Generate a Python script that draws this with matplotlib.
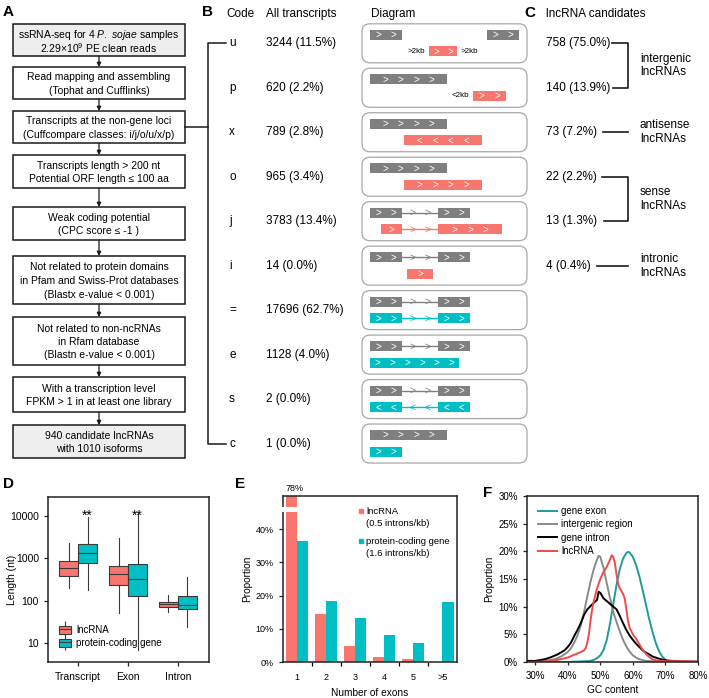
import matplotlib
matplotlib.use('Agg')
import matplotlib.pyplot as plt
from matplotlib.patches import Rectangle, FancyBboxPatch, Patch
from matplotlib.lines import Line2D
from matplotlib.ticker import NullLocator
import numpy as np

plt.rcParams['font.family'] = ['Liberation Sans', 'DejaVu Sans']
plt.rcParams['mathtext.fontset'] = 'custom'
plt.rcParams['mathtext.rm'] = 'Liberation Sans'
plt.rcParams['mathtext.it'] = 'Liberation Sans:italic'

RED = '#f8766d'
TEAL = '#00bfc4'
GRAY = '#7f7f7f'
DARK = '#1a1a1a'

# ------------------------------------------------------------------ data
flow_steps = [
    ['ssRNA-seq for 4 $\\it{P.\\ sojae}$ samples', '2.29×10$^{9}$ PE clean reads'],
    ['Read mapping and assembling', '(Tophat and Cufflinks)'],
    ['Transcripts at the non-gene loci', '(Cuffcompare classes: i/j/o/u/x/p)'],
    ['Transcripts length > 200 nt', 'Potential ORF length ≤ 100 aa'],
    ['Weak coding potential', '(CPC score ≤ -1 )'],
    ['Not related to protein domains', 'in Pfam and Swiss-Prot databases',
     '(Blastx e-value < 0.001)'],
    ['Not related to non-ncRNAs', 'in Rfam database', '(Blastn e-value < 0.001)'],
    ['With a transcription level', 'FPKM > 1 in at least one library'],
    ['940 candidate lncRNAs', 'with 1010 isoforms'],
]
flow_tops = [24, 67, 111, 155, 207, 256, 317, 377, 425]
flow_bottoms = [56, 99, 143, 188, 240, 304, 365, 412, 458]

codes = ['u', 'p', 'x', 'o', 'j', 'i', '=', 'e', 's', 'c']
all_counts = [3244, 620, 789, 965, 3783, 14, 17696, 1128, 2, 1]
all_pct = [11.5, 2.2, 2.8, 3.4, 13.4, 0.0, 62.7, 4.0, 0.0, 0.0]

lnc_counts = [758, 140, 73, 22, 13, 4]
lnc_pct = [75.0, 13.9, 7.2, 2.2, 1.3, 0.4]
lnc_groups = ['intergenic\nlncRNAs', 'antisense\nlncRNAs', 'sense\nlncRNAs', 'intronic\nlncRNAs']
lnc_group_rows = [(0, 1), (2, 2), (3, 4), (5, 5)]

# panel D : box statistics (nt)
d_cats = ['Transcript', 'Exon', 'Intron']
d_groups = ['lncRNA', 'protein-coding gene']
d_whislo = [[203, 178], [50, 7], [55, 24]]
d_q1 = [[390, 790], [230, 126], [72, 65]]
d_med = [[580, 1310], [419, 325], [82, 79]]
d_q3 = [[865, 2140], [660, 750], [95, 131]]
d_whishi = [[2340, 9300], [2960, 11100], [136, 355]]
d_signif = ['**', '**', '']

# panel E : exon number distribution
e_cats = ['1', '2', '3', '4', '5', '>5']
e_lnc = [0.78, 0.144, 0.049, 0.016, 0.010, 0.0]
e_pcg = [0.364, 0.184, 0.133, 0.080, 0.058, 0.182]

# panel F : GC content distributions
f_exon_gc = [0.275, 0.40, 0.44, 0.46, 0.47, 0.48, 0.49, 0.50, 0.51, 0.52, 0.53, 0.54, 0.55, 0.56,
             0.57, 0.58, 0.585, 0.59, 0.60, 0.61, 0.62, 0.63, 0.64, 0.65, 0.66, 0.67, 0.68, 0.69,
             0.70, 0.71, 0.73, 0.80]
f_exon = [0.0, 0.0, 0.001, 0.0015, 0.002, 0.004, 0.007, 0.012, 0.022, 0.040, 0.070, 0.105, 0.140,
          0.168, 0.187, 0.197, 0.199, 0.198, 0.190, 0.175, 0.155, 0.130, 0.104, 0.078, 0.055,
          0.035, 0.020, 0.010, 0.004, 0.0015, 0.0003, 0.0]
f_inter_gc = [0.275, 0.33, 0.36, 0.38, 0.40, 0.41, 0.42, 0.43, 0.44, 0.45, 0.46, 0.47, 0.48, 0.49,
              0.495, 0.50, 0.51, 0.52, 0.53, 0.54, 0.55, 0.56, 0.57, 0.58, 0.59, 0.60, 0.61, 0.62,
              0.64, 0.67, 0.72, 0.80]
f_inter = [0.0005, 0.002, 0.005, 0.010, 0.018, 0.025, 0.035, 0.048, 0.066, 0.090, 0.118, 0.145,
           0.168, 0.185, 0.192, 0.190, 0.170, 0.142, 0.115, 0.090, 0.072, 0.055, 0.040, 0.028,
           0.019, 0.012, 0.008, 0.005, 0.002, 0.001, 0.0005, 0.0]
f_intron_gc = [0.275, 0.30, 0.33, 0.35, 0.37, 0.39, 0.40, 0.41, 0.42, 0.43, 0.44, 0.45, 0.46, 0.47,
               0.48, 0.49, 0.495, 0.50, 0.505, 0.51, 0.52, 0.53, 0.54, 0.55, 0.56, 0.57, 0.58,
               0.59, 0.60, 0.61, 0.62, 0.63, 0.64, 0.65, 0.66, 0.68, 0.70, 0.72, 0.75, 0.80]
f_intron = [0.002, 0.002, 0.005, 0.009, 0.014, 0.021, 0.027, 0.035, 0.047, 0.058, 0.070, 0.085,
            0.095, 0.101, 0.107, 0.112, 0.127, 0.125, 0.120, 0.115, 0.110, 0.105, 0.100, 0.095,
            0.083, 0.070, 0.058, 0.048, 0.040, 0.033, 0.027, 0.021, 0.017, 0.014, 0.010, 0.006,
            0.003, 0.002, 0.001, 0.0005]
f_lnc_gc = [0.275, 0.34, 0.37, 0.40, 0.42, 0.44, 0.45, 0.455, 0.46, 0.465, 0.47, 0.475, 0.48, 0.49,
            0.50, 0.51, 0.52, 0.53, 0.535, 0.54, 0.545, 0.55, 0.555, 0.56, 0.565, 0.57, 0.575,
            0.58, 0.585, 0.59, 0.60, 0.61, 0.62, 0.63, 0.64, 0.65, 0.66, 0.67, 0.70, 0.80]
f_lnc = [0.0, 0.001, 0.004, 0.008, 0.013, 0.018, 0.021, 0.025, 0.035, 0.050, 0.075, 0.095, 0.110,
         0.133, 0.150, 0.163, 0.172, 0.185, 0.193, 0.190, 0.178, 0.158, 0.140, 0.133, 0.128,
         0.123, 0.115, 0.095, 0.075, 0.062, 0.050, 0.042, 0.032, 0.022, 0.015, 0.009, 0.005,
         0.003, 0.0015, 0.001]
f_series = [('gene exon', f_exon_gc, f_exon, '#1e9c9c'),
            ('intergenic region', f_inter_gc, f_inter, '#8a8a8a'),
            ('gene intron', f_intron_gc, f_intron, '#000000'),
            ('lncRNA', f_lnc_gc, f_lnc, '#f04a4a')]

# ------------------------------------------------------------------ figure
W, H = 709, 698
fig = plt.figure(figsize=(W / 100, H / 100), dpi=100)


def rect_px(l, t, r, b):
    return [l / W, 1 - b / H, (r - l) / W, (b - t) / H]


def style_axes(ax):
    for s in ax.spines.values():
        s.set_linewidth(1.1)
        s.set_color('#222222')
    ax.tick_params(direction='out', length=3, width=0.9, color='#222222')


# ---------------- D
axD = fig.add_axes(rect_px(48, 497, 209, 662))
stats, pos, cols = [], [], []
for k in range(len(d_cats)):
    for j in range(len(d_groups)):
        stats.append(dict(whislo=d_whislo[k][j], q1=d_q1[k][j], med=d_med[k][j],
                          q3=d_q3[k][j], whishi=d_whishi[k][j], fliers=[]))
        pos.append(k + 1 + (j - 0.5) * 0.38)
        cols.append([RED, TEAL][j])
bp = axD.bxp(stats, positions=pos, widths=0.38, patch_artist=True, showcaps=False,
             showfliers=False,
             boxprops=dict(edgecolor='#3a3a3a', linewidth=0.8),
             whiskerprops=dict(color='#3a3a3a', linewidth=0.8),
             medianprops=dict(color='#3a3a3a', linewidth=0.8))
for b, c in zip(bp['boxes'], cols):
    b.set_facecolor(c)
axD.set_yscale('log')
axD.set_ylim(3.56, 28100)
axD.set_xlim(0.4, 3.62)
axD.set_yticks([10, 100, 1000, 10000])
axD.set_yticklabels(['10', '100', '1000', '10000'])
axD.yaxis.set_minor_locator(NullLocator())
axD.set_xticks([1, 2, 3])
axD.set_xticklabels(d_cats)
style_axes(axD)
axD.tick_params(labelsize=7.5)
axD.tick_params(axis='x', pad=4.5)
axD.set_ylabel('Length (nt)', fontsize=7.5)
axD.yaxis.set_label_coords(-0.195, 0.5)
for k, s in enumerate(d_signif):
    if s:
        axD.text(k + 1 + 0.19, 8000, s, ha='center', va='baseline', fontsize=10)
hD = []
for c in (RED, TEAL):
    hD.append((Line2D([], [], color='#3a3a3a', lw=0, marker='|', markersize=11,
                      markeredgewidth=0.8),
               Patch(facecolor=c, edgecolor='#3a3a3a', linewidth=0.8),
               Line2D([], [], color='#3a3a3a', lw=0.8)))
axD.legend(hD, d_groups, loc='lower left', bbox_to_anchor=(0.068, 0.085), frameon=False,
           fontsize=7, handlelength=1.2, handleheight=0.9, handletextpad=0.55,
           labelspacing=0.3, borderpad=0, borderaxespad=0)

# ---------------- E
E_BOX = (282.5, 496, 457, 662)
axE = fig.add_axes(rect_px(*E_BOX))
x = np.arange(1, len(e_cats) + 1)
axE.bar(x - 0.19, e_lnc, width=0.38, color=RED, zorder=2)
axE.bar(x + 0.19, e_pcg, width=0.38, color=TEAL, zorder=2)
axE.set_xlim(0.5, 6.5)
axE.set_ylim(0, 0.5)
axE.set_yticks([0, 0.1, 0.2, 0.3, 0.4])
axE.set_yticklabels(['0%', '10%', '20%', '30%', '40%'])
axE.set_xticks(x)
axE.set_xticklabels(e_cats)
axE.set_xticks(x[:-1] + 0.5, minor=True)
style_axes(axE)
axE.tick_params(axis='x', which='major', length=0, pad=8)
axE.tick_params(axis='x', which='minor', direction='out', length=3, width=0.9)
axE.tick_params(labelsize=6.5)
axE.set_ylabel('Proportion', fontsize=7.3, labelpad=2)
axE.set_xlabel('Number of exons', fontsize=7.3, labelpad=4)
axE.add_patch(Rectangle((0.3, 0.452), 0.69, 0.015, facecolor='white', edgecolor='none',
                        zorder=5, clip_on=False))
axE.annotate(f'{e_lnc[0]*100:.0f}%', (x[0] - 0.19, 0.5), xytext=(2.5, 2.5),
             textcoords='offset points', ha='center', va='bottom', fontsize=6.5,
             annotation_clip=False)


def e_frac(px, py):
    l, t, r, b = E_BOX
    return (px - l) / (r - l), (b - py) / (b - t)


e_leg = [(RED, 'lncRNA', '(0.5 introns/kb)', 511, 523),
         (TEAL, 'protein-coding gene', '(1.6 introns/kb)', 541, 553)]
for c, l1, l2, y1, y2 in e_leg:
    fx, fy = e_frac(361, y1)
    axE.plot([fx], [fy], marker='s', markersize=3, color=c, transform=axE.transAxes,
             clip_on=False)
    fx, fy = e_frac(366, y1)
    axE.text(fx, fy, l1, transform=axE.transAxes, fontsize=6.8, va='center', ha='left')
    fx, fy = e_frac(366, y2)
    axE.text(fx, fy, l2, transform=axE.transAxes, fontsize=6.8, va='center', ha='left')

# ---------------- F
axF = fig.add_axes(rect_px(527, 496, 698, 662))
for lab, gx, gy, c in f_series:
    axF.plot(gx, gy, color=c, lw=1.4, label=lab)
axF.set_xlim(0.275, 0.80)
axF.set_ylim(0, 0.30)
xt = [0.3, 0.4, 0.5, 0.6, 0.7, 0.8]
axF.set_xticks(xt)
axF.set_xticklabels([f'{v*100:.0f}%' for v in xt])
yt = [0, 0.05, 0.10, 0.15, 0.20, 0.25, 0.30]
axF.set_yticks(yt)
axF.set_yticklabels([f'{v*100:.0f}%' for v in yt])
style_axes(axF)
axF.tick_params(labelsize=7)
axF.tick_params(axis='x', length=2, pad=4.5)
axF.set_ylabel('Proportion', fontsize=7.3, labelpad=3)
axF.set_xlabel('GC content', fontsize=7.3, labelpad=3)
axF.legend(loc='upper left', bbox_to_anchor=(0.064, 0.94), frameon=False, fontsize=7,
           handlelength=2.0, handletextpad=0.4, labelspacing=0.35, borderpad=0,
           borderaxespad=0)

# ---------------- overlay (A, B, C, labels)
ax0 = fig.add_axes([0, 0, 1, 1], zorder=10)
ax0.set_xlim(0, W)
ax0.set_ylim(H, 0)
ax0.axis('off')
ax0.patch.set_alpha(0)

# panel letters
for lab, lx, ly in [('A', 3, 12), ('B', 202, 12), ('C', 524, 13),
                    ('D', 3, 484), ('E', 235, 484), ('F', 483, 493)]:
    ax0.text(lx, ly, lab, fontsize=11, fontweight='bold', ha='left', va='center')

# A: flowchart
FX0, FX1 = 13, 185
FXC = (FX0 + FX1) / 2
LS = 13.5
for i, (lines, t, b) in enumerate(zip(flow_steps, flow_tops, flow_bottoms)):
    fc = '#eeeeee' if i in (0, len(flow_steps) - 1) else 'white'
    ax0.add_patch(Rectangle((FX0, t), FX1 - FX0, b - t, facecolor=fc, edgecolor=DARK, lw=1.1))
    yc = (t + b) / 2
    for m, ln in enumerate(lines):
        ax0.text(FXC, yc + (m - (len(lines) - 1) / 2) * LS, ln, ha='center',
                 va='center_baseline', fontsize=7.5)
    if i > 0:
        ax0.annotate('', xy=(FXC, t), xytext=(FXC, flow_bottoms[i - 1]),
                     arrowprops=dict(arrowstyle='-|>', lw=0.9, color=DARK, mutation_scale=6,
                                     shrinkA=0, shrinkB=0))

# B: table
row_y = 43.3 + 44.47 * np.arange(len(codes))
ax0.plot([FX1, 208], [(flow_tops[2] + flow_bottoms[2]) / 2] * 2, color=DARK, lw=1.1)
ax0.plot([226, 208, 208, 226], [row_y[0], row_y[0], row_y[-1], row_y[-1]], color=DARK, lw=1.1)

HDR = 14
ax0.text(226, HDR, 'Code', fontsize=8.5, va='center')
ax0.text(266, HDR, 'All transcripts', fontsize=8.5, va='center')
ax0.text(371, HDR, 'Diagram', fontsize=8.5, va='center')
ax0.text(546, HDR, 'lncRNA candidates', fontsize=8.5, va='center')
for k, (c, n, p) in enumerate(zip(codes, all_counts, all_pct)):
    ax0.text(229, row_y[k], c, fontsize=8.5, va='center')
    ax0.text(266, row_y[k], f'{n} ({p:.1f}%)', fontsize=8.5, va='center')

TOP, BOT = -8.5, 8.0
j_top = [('exon', 370, 402, TOP, GRAY, 2, '>'), ('intron', 402, 438, TOP, GRAY, 2, '>'),
         ('exon', 438, 470, TOP, GRAY, 2, '>')]
long_top = [('exon', 370, 447, TOP, GRAY, 4, '>')]
diagrams = {
    'u': [('exon', 370, 402, TOP, GRAY, 2, '>'), ('exon', 487, 519, TOP, GRAY, 2, '>'),
          ('exon', 429, 457, BOT, RED, 2, '>'),
          ('label', 416, 0, BOT, '>2kb', 0, ''), ('label', 469, 0, BOT, '>2kb', 0, '')],
    'p': long_top + [('exon', 473, 506, BOT, RED, 2, '>'), ('label', 460, 0, BOT, '<2kb', 0, '')],
    'x': long_top + [('exon', 404, 482, BOT, RED, 4, '<')],
    'o': long_top + [('exon', 404, 482, BOT, RED, 4, '>')],
    'j': j_top + [('exon', 381, 402, BOT, RED, 1, '>'), ('intron', 402, 438, BOT, RED, 2, '>'),
                  ('exon', 438, 502, BOT, RED, 3, '>')],
    'i': j_top + [('exon', 407, 433, BOT, RED, 1, '>')],
    '=': j_top + [('exon', 370, 402, BOT, TEAL, 2, '>'), ('intron', 402, 438, BOT, TEAL, 2, '>'),
                  ('exon', 438, 470, BOT, TEAL, 2, '>')],
    'e': j_top + [('exon', 370, 459, BOT, TEAL, 6, '>')],
    's': j_top + [('exon', 370, 402, BOT, TEAL, 2, '<'), ('intron', 402, 438, BOT, TEAL, 2, '<'),
                  ('exon', 438, 470, BOT, TEAL, 2, '<')],
    'c': long_top + [('exon', 370, 402, BOT, TEAL, 2, '>')],
}


def chevrons(x0, x1, yc, n, d, color, fs=7):
    w = x1 - x0
    s = min(w / n, 15.5)
    xc = (x0 + x1) / 2
    for i in range(n):
        ax0.text(xc + (i - (n - 1) / 2) * s, yc + 0.3, d, color=color, fontsize=fs,
                 ha='center', va='center')


for k, c in enumerate(codes):
    yr = row_y[k]
    ax0.add_patch(FancyBboxPatch((362, yr - 19.5), 165, 39,
                                 boxstyle='round,pad=0,rounding_size=8',
                                 facecolor='white', edgecolor='#a8a8a8', lw=0.9))
    for kind, x0, x1, dy, col, n, d in diagrams[c]:
        yc = yr + dy
        if kind == 'exon':
            ax0.add_patch(Rectangle((x0, yc - 5), x1 - x0, 10, facecolor=col, edgecolor='none'))
            chevrons(x0, x1, yc, n, d, 'white')
        elif kind == 'intron':
            ax0.plot([x0, x1], [yc, yc], color=col, lw=1.0)
            chevrons(x0, x1, yc, n, d, col, fs=7.5)
        else:
            ax0.text(x0, yc, col, fontsize=5.8, ha='center', va='center')

# C
for k, (n, p) in enumerate(zip(lnc_counts, lnc_pct)):
    ax0.text(546, row_y[k], f'{n} ({p:.1f}%)', fontsize=8.5, va='center')
line_start = [612, 613, 603, 602, 604, 597]
BX = 628
for (r0, r1), lab in zip(lnc_group_rows, lnc_groups):
    if r0 == r1:
        ax0.plot([line_start[r0], BX], [row_y[r0]] * 2, color=DARK, lw=1.2)
    else:
        ax0.plot([line_start[r0], BX, BX, line_start[r1]],
                 [row_y[r0], row_y[r0], row_y[r1], row_y[r1]], color=DARK, lw=1.2)
    ax0.text(640, (row_y[r0] + row_y[r1]) / 2, lab, fontsize=8.5, va='center', ha='left',
             linespacing=1.2)

fig.savefig('out.png', dpi=100)
